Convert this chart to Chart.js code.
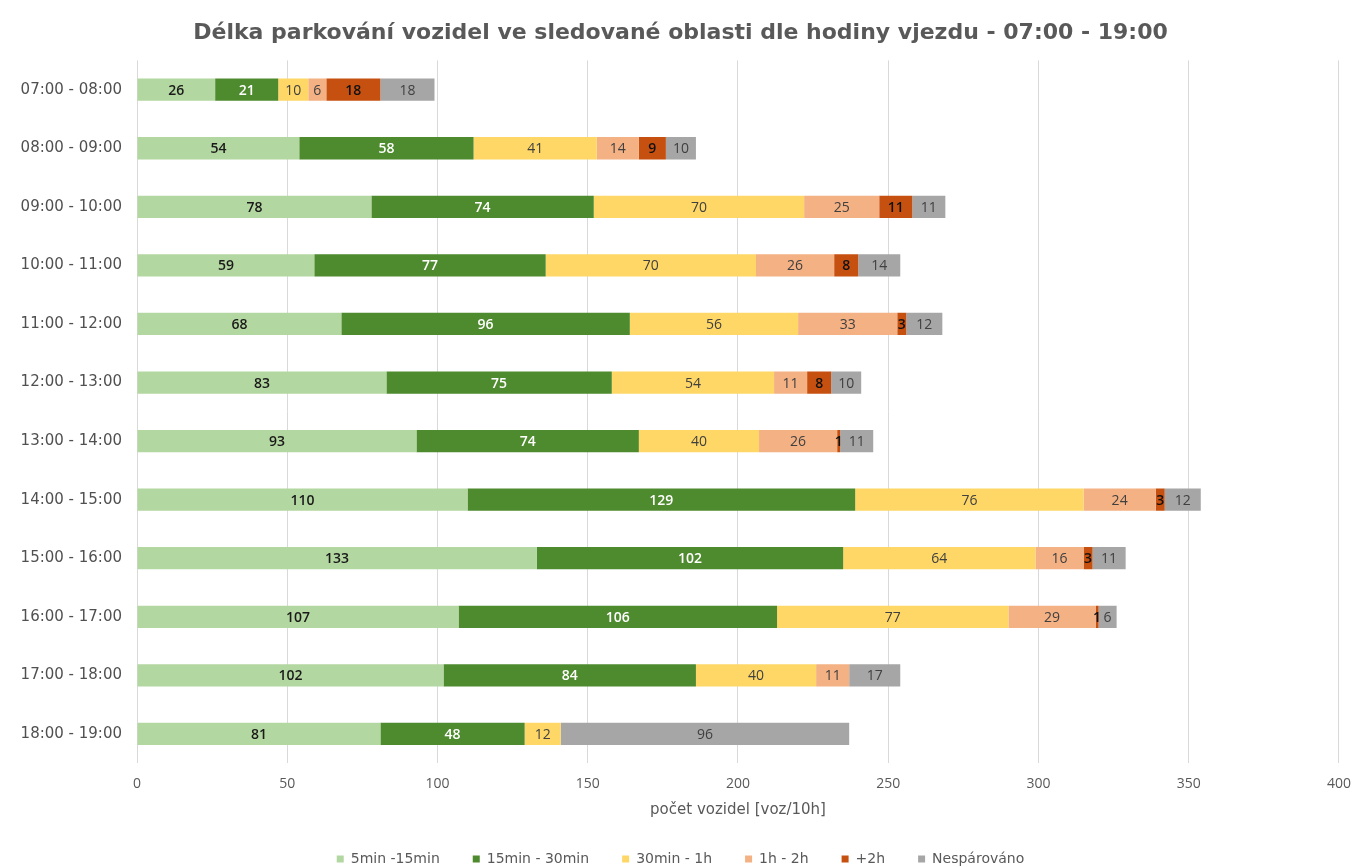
<!DOCTYPE html>
<html>
<head>
<meta charset="utf-8">
<script src="https://cdn.jsdelivr.net/npm/chart.js@4.4.0/dist/chart.umd.min.js"></script>
<style>
html,body{margin:0;padding:0;background:#fff;}
#wrap{width:1363px;height:867px;position:relative;}
</style>
</head>
<body>
<div id="wrap"><canvas id="c" width="1363" height="867"></canvas></div>
<script>
const categories = ["07:00 - 08:00","08:00 - 09:00","09:00 - 10:00","10:00 - 11:00","11:00 - 12:00","12:00 - 13:00","13:00 - 14:00","14:00 - 15:00","15:00 - 16:00","16:00 - 17:00","17:00 - 18:00","18:00 - 19:00"];
const s5_15 = [26,54,78,59,68,83,93,110,133,107,102,81];
const s15_30 = [21,58,74,77,96,75,74,129,102,106,84,48];
const s30_1h = [10,41,70,70,56,54,40,76,64,77,40,12];
const s1h_2h = [6,14,25,26,33,11,26,24,16,29,11,0];
const s2h = [18,9,11,8,3,8,1,3,3,1,0,0];
const sNesp = [18,10,11,14,12,10,11,12,11,6,17,96];
const seriesNames = ["5min -15min","15min - 30min","30min - 1h","1h - 2h","+2h","Nespárováno"];
const xTicks = [0,50,100,150,200,250,300,350,400];

const colors = ["#b3d7a0","#4e8a2e","#fed766","#f4b183","#c6500f","#a6a6a6"];
const labelColors = ["#1a1a1a","#ffffff","#404040","#404040","#111111","#404040"];
const allSeries = [s5_15,s15_30,s30_1h,s1h_2h,s2h,sNesp];

const FONT = "'Open Sans', 'Noto Sans', sans-serif";
const WFONT = "'DejaVu Sans', 'Open Sans', sans-serif";

const labelPlugin = {
  id:'barLabels',
  afterDatasetsDraw(chart){
    const ctx = chart.ctx;
    ctx.save();
    ctx.textAlign='center';
    ctx.textBaseline='middle';
    chart.data.datasets.forEach((ds,i)=>{
      const meta = chart.getDatasetMeta(i);
      meta.data.forEach((bar,j)=>{
        const v = ds.data[j];
        if(!v) return;
        const cx = (bar.x + bar.base)/2;
        ctx.font = (i<=1 || i===4 ? "600 " : "500 ") + "14px " + FONT;
        ctx.fillStyle = labelColors[i];
        ctx.fillText(String(v), cx, bar.y+1);
      });
    });
    ctx.restore();
  }
};

new Chart(document.getElementById('c'),{
  type:'bar',
  data:{
    labels:categories,
    datasets: allSeries.map((d,i)=>({
      label:seriesNames[i],
      data:d,
      backgroundColor:colors[i],
      borderWidth:0,
      barPercentage:0.38,
      categoryPercentage:1.0
    }))
  },
  options:{
    indexAxis:'y',
    responsive:false,
    animation:false,
    layout:{padding:{left:0,right:2,top:20,bottom:-9}},
    plugins:{
      title:{display:true,text:"Délka parkování vozidel ve sledované oblasti dle hodiny vjezdu - 07:00 - 19:00",
        font:{family:WFONT,size:22,weight:'bold'},color:'#595959',padding:{top:0,bottom:14}},
      legend:{position:'bottom',
        labels:{boxWidth:7,boxHeight:7,font:{family:WFONT,size:14},color:'#595959',padding:33}},
      tooltip:{enabled:false}
    },
    scales:{
      x:{stacked:true,min:0,max:400,
        afterBuildTicks(ax){ax.ticks = xTicks.map(v=>({value:v}));},
        grid:{color:'#d9d9d9',drawTicks:false},
        border:{display:false},
        ticks:{font:{family:FONT,size:14},color:'#595959',padding:12},
        title:{display:true,text:'počet vozidel [voz/10h]',font:{family:WFONT,size:15},color:'#595959',padding:{top:-3,bottom:0}}
      },
      y:{stacked:true,
        grid:{display:false},
        border:{display:false},
        ticks:{font:{family:WFONT,size:15},color:'#505050',padding:7},
        afterFit(ax){ax.width=137;}
      }
    }
  },
  plugins:[labelPlugin]
});
</script>
</body>
</html>
